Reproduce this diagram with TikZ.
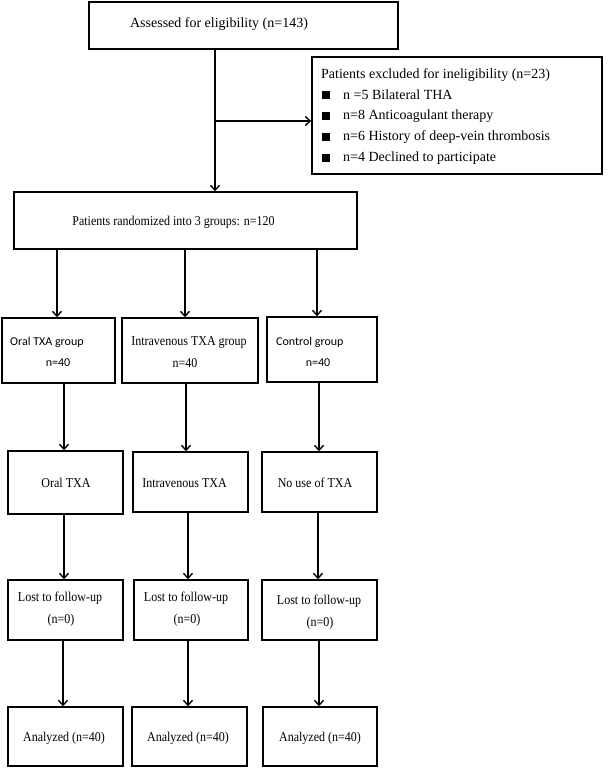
\documentclass[tikz,border=0pt]{standalone}
\usepackage{fontspec}
\setmainfont{Liberation Serif}
\newfontfamily\condserif[FakeStretch=0.89]{Liberation Serif}
\newfontfamily\calsans{Carlito}
\usetikzlibrary{arrows.meta}
\begin{document}
\begin{tikzpicture}[x=1pt,y=-1pt,
  box/.style={draw, line width=1.4pt, inner sep=0pt},
  txt/.style={inner sep=0pt, font=\condserif\fontsize{13.5}{15}\selectfont},
  bigtxt/.style={inner sep=0pt, font=\fontsize{14}{16}\selectfont},
  stxt/.style={inner sep=0pt, font=\calsans\fontsize{12}{14}\selectfont},
  arr/.style={line width=1.4pt, -{Straight Barb[length=5pt,width=9pt,line width=1.4pt]}},
  bul/.style={fill=black, inner sep=0pt, minimum size=8pt}]
\useasboundingbox (0,0) rectangle (611,768);
% boxes
\node[box, minimum width=309pt, minimum height=47pt] (assess) at (243.5,25.5) {};
\node[box, minimum width=290pt, minimum height=117pt] (excl) at (457,115.5) {};
\node[box, minimum width=343pt, minimum height=57pt] (rand) at (185.5,220.5) {};
\node[box, minimum width=113pt, minimum height=65pt] (g1) at (58.5,350.5) {};
\node[box, minimum width=136pt, minimum height=65pt] (g2) at (190,350.5) {};
\node[box, minimum width=110pt, minimum height=65pt] (g3) at (322,349.5) {};
\node[box, minimum width=115pt, minimum height=63pt] (t1) at (65.5,482.5) {};
\node[box, minimum width=115pt, minimum height=60pt] (t2) at (190.5,482) {};
\node[box, minimum width=115pt, minimum height=60pt] (t3) at (319.5,482) {};
\node[box, minimum width=115pt, minimum height=60pt] (l1) at (65.5,610) {};
\node[box, minimum width=114pt, minimum height=60pt] (l2) at (191,610) {};
\node[box, minimum width=115pt, minimum height=60pt] (l3) at (319.5,610) {};
\node[box, minimum width=115pt, minimum height=59pt] (a1) at (65.5,736.5) {};
\node[box, minimum width=115pt, minimum height=59pt] (a2) at (189.5,736.5) {};
\node[box, minimum width=114pt, minimum height=59pt] (a3) at (320,736.5) {};
% texts
\node[bigtxt] (assesst) at (219,24) {Assessed for eligibility (n=143)};
\node[bigtxt, anchor=west] (exh) at (321,75) {Patients excluded for ineligibility (n=23)};
\node[bul] (b1) at (326,95) {};
\node[bul] (b2) at (326,116) {};
\node[bul] (b3) at (326,137) {};
\node[bul] (b4) at (326,158) {};
\node[bigtxt, anchor=west] (e1) at (343,95) {n =5 Bilateral THA};
\node[bigtxt, anchor=west] (e2) at (343,116) {n=8 Anticoagulant therapy};
\node[bigtxt, anchor=west] (e3) at (343,137) {n=6 History of deep-vein thrombosis};
\node[bigtxt, anchor=west] (e4) at (343,158) {n=4 Declined to participate};
\node[txt] (randt) at (173.5,222) {Patients randomized into 3 groups: n=120};
\node[stxt, anchor=west] (g1a) at (10,342) {Oral TXA group};
\node[stxt] (g1b) at (58,363) {n=40};
\node[txt] (g2a) at (189,342) {Intravenous TXA group};
\node[txt] (g2b) at (185,363) {n=40};
\node[stxt, anchor=west] (g3a) at (276,342) {Control group};
\node[stxt] (g3b) at (318,363) {n=40};
\node[txt] (t1t) at (66,483) {Oral TXA};
\node[txt] (t2t) at (184.5,483) {Intravenous TXA};
\node[txt] (t3t) at (315,483) {No use of TXA};
\node[txt] (l1a) at (60,598) {Lost to follow-up};
\node[txt] (l1b) at (61,620) {(n=0)};
\node[txt] (l2a) at (186,598) {Lost to follow-up};
\node[txt] (l2b) at (187,620) {(n=0)};
\node[txt] (l3a) at (319,601) {Lost to follow-up};
\node[txt] (l3b) at (320,623) {(n=0)};
\node[txt] (a1t) at (64,738) {Analyzed (n=40)};
\node[txt] (a2t) at (188,738) {Analyzed (n=40)};
\node[txt] (a3t) at (320,738) {Analyzed (n=40)};
% connectors
\coordinate (j) at (215,121);
\draw[line width=1.4pt] (assess.south -| j) -- (j);
\draw[arr] (j) -- (rand.north -| j);
\draw[arr] (j) -- (excl.west |- j);
\coordinate (c1) at (57,0);
\coordinate (c2) at (185,0);
\coordinate (c3) at (317,0);
\draw[arr] (rand.south -| c1) -- (g1.north -| c1);
\draw[arr] (rand.south -| c2) -- (g2.north -| c2);
\draw[arr] (rand.south -| c3) -- (g3.north -| c3);
\coordinate (d1) at (64,0);
\coordinate (d2) at (186,0);
\coordinate (d3) at (319,0);
\draw[arr] (g1.south -| d1) -- (t1.north -| d1);
\draw[arr] (g2.south -| d2) -- (t2.north -| d2);
\draw[arr] (g3.south -| d3) -- (t3.north -| d3);
\coordinate (e1c) at (64,0);
\coordinate (e2c) at (188,0);
\coordinate (e3c) at (318,0);
\draw[arr] (t1.south -| e1c) -- (l1.north -| e1c);
\draw[arr] (t2.south -| e2c) -- (l2.north -| e2c);
\draw[arr] (t3.south -| e3c) -- (l3.north -| e3c);
\coordinate (f1) at (63,0);
\coordinate (f2) at (188,0);
\coordinate (f3) at (319,0);
\draw[arr] (l1.south -| f1) -- (a1.north -| f1);
\draw[arr] (l2.south -| f2) -- (a2.north -| f2);
\draw[arr] (l3.south -| f3) -- (a3.north -| f3);
\end{tikzpicture}
\end{document}
